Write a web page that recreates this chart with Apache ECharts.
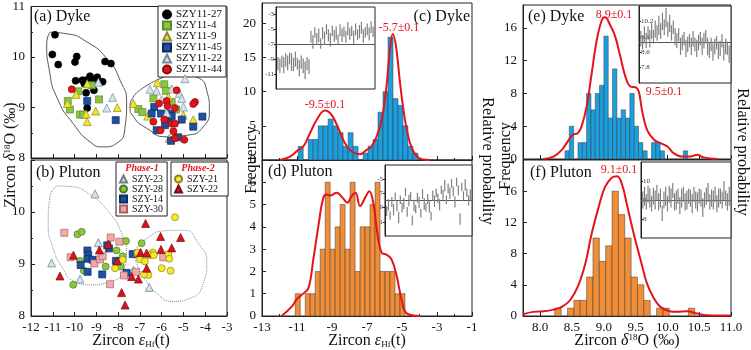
<!DOCTYPE html>
<html><head><meta charset="utf-8">
<script src="https://cdn.jsdelivr.net/npm/echarts/dist/echarts.min.js"></script>
<style>html,body{margin:0;padding:0;background:#fff}#c{width:751px;height:350px}</style>
</head><body><div id="c"></div>
<script>
// ---------------- DATA ----------------
// Panel (a) Dyke scatter  [eHf, d18O]
const a27 = [[-10.90,10.44],[-11.02,10.05],[-10.75,9.85],[-9.90,10.01],[-9.98,9.90],[-8.60,9.91],[-8.33,9.87],[-9.95,9.53],[-9.64,9.54],[-9.55,9.47],[-9.29,9.62],[-9.25,9.55],[-9.47,9.54],[-8.96,9.60],[-8.98,9.51],[-8.71,9.51],[-9.11,9.34],[-9.47,9.29],[-9.42,8.99]];
const a4  = [[-9.83,9.32],[-9.21,9.44],[-8.88,9.16],[-10.31,9.13],[-10.21,8.96],[-9.75,8.86],[-9.60,8.86],[-5.88,9.46],[-5.80,9.33],[-6.38,9.18],[-5.54,9.11],[-7.07,8.97],[-6.89,8.91],[-5.34,8.96]];
const a9  = [[-9.93,9.26],[-10.33,9.08],[-8.04,9.00],[-9.03,8.93],[-9.47,8.87],[-9.42,8.72],[-9.42,9.47],[-6.20,9.49],[-5.69,9.21],[-7.30,9.08],[-6.64,8.83],[-5.01,8.85],[-4.55,8.76],[-5.65,8.39]];
const a45 = [[-9.42,9.13],[-8.11,8.75],[-6.34,9.01],[-6.46,8.88],[-6.03,8.88],[-5.59,8.88],[-5.69,8.78],[-5.54,8.83],[-5.85,8.65],[-5.08,8.76],[-4.55,8.62],[-6.23,8.55],[-5.24,8.41],[-4.13,8.82],[-5.57,8.34]];
const a22 = [[-8.91,9.50],[-8.25,9.20],[-8.52,8.99],[-4.93,9.57],[-6.54,9.36],[-6.23,9.33],[-5.54,9.37],[-5.19,9.28],[-6.00,9.16],[-5.08,9.18],[-5.00,9.01],[-5.77,8.89]];
const a44 = [[-10.13,9.36],[-5.31,9.34],[-6.12,9.08],[-5.77,9.13],[-5.73,9.03],[-4.47,9.11],[-4.55,9.07],[-5.39,8.99],[-5.88,8.76],[-6.38,8.72],[-5.54,8.68],[-5.39,8.68],[-6.05,8.55],[-5.46,8.53],[-5.39,8.39],[-4.96,8.36]];
const aHullL = [[-11.13,10.49],[-10.36,10.46],[-9.44,10.30],[-8.52,9.97],[-7.91,9.54],[-7.61,9.08],[-7.68,8.62],[-8.07,8.29],[-8.68,8.22],[-9.29,8.32],[-10.06,8.68],[-10.75,9.14],[-11.16,9.74],[-11.28,10.26],[-11.13,10.49]];
const aHullR = [[-7.00,9.34],[-6.08,9.57],[-5.16,9.67],[-4.39,9.60],[-3.93,9.34],[-3.81,8.95],[-4.09,8.62],[-4.85,8.45],[-5.77,8.42],[-6.69,8.59],[-7.30,8.82],[-7.45,9.01],[-7.30,9.21],[-7.00,9.34]];

// Panel (b) Pluton scatter
const b23 = [[-9.06,10.35],[-11.05,9.02],[-9.75,8.71],[-8.91,9.41],[-6.57,8.55],[-7.30,8.88]];
const b28 = [[-9.87,9.57],[-9.67,9.62],[-9.75,9.06],[-9.57,8.87],[-10.06,8.60],[-8.57,8.95],[-8.07,9.26],[-7.79,9.15],[-7.88,8.95],[-7.64,9.44],[-6.92,9.40]];
const b14 = [[-9.41,9.26],[-9.37,9.17],[-9.41,9.10],[-9.17,9.08],[-8.42,9.30],[-8.50,9.36],[-9.72,8.98],[-9.40,8.85],[-8.73,8.80],[-8.10,9.06],[-7.33,9.19],[-7.61,8.83]];
const b30 = [[-10.47,9.60],[-10.18,9.13],[-9.09,9.01],[-8.83,9.09],[-8.71,9.15],[-8.34,9.51],[-7.94,9.43],[-8.37,8.61],[-7.73,8.78],[-7.18,8.85],[-5.93,9.13],[-7.10,9.21]];
const b21 = [[-5.39,9.90],[-6.41,9.22],[-6.54,9.17],[-6.99,9.09],[-6.77,9.05],[-5.69,9.19],[-5.65,9.10],[-6.00,8.92],[-5.59,8.87],[-6.61,8.79],[-6.81,8.80],[-7.79,9.08],[-8.14,8.92],[-7.10,9.22],[-6.36,9.17]];
const b22 = [[-6.74,9.78],[-6.05,9.53],[-5.13,9.51],[-5.54,9.31],[-6.03,9.28],[-6.97,9.22],[-6.69,9.21],[-6.69,8.92],[-7.38,8.76],[-7.07,8.71],[-7.84,8.45],[-7.68,8.21],[-10.05,9.17],[-10.67,8.77],[-8.86,9.27],[-8.45,9.38],[-8.04,9.06]];
const bHullL = [[-10.82,10.50],[-10.21,10.49],[-9.29,10.33],[-8.37,9.97],[-7.84,9.59],[-7.61,9.24],[-7.76,8.88],[-8.37,8.66],[-9.29,8.60],[-9.98,8.66],[-10.59,8.95],[-10.98,9.30],[-11.21,9.78],[-11.13,10.29],[-10.82,10.50]];
const bHullR = [[-7.30,9.21],[-6.69,9.49],[-5.77,9.64],[-5.00,9.65],[-4.32,9.40],[-3.93,9.01],[-4.09,8.63],[-4.70,8.34],[-5.47,8.28],[-6.23,8.44],[-6.84,8.76],[-7.22,9.08],[-7.30,9.21]];

// Panel (c) Dyke eHf histogram: bin left edges, counts
const cBinW = 0.285;
const cEdges = [-10.93,-10.645,-10.36,-10.075,-9.79,-9.505,-9.22,-8.935,-8.65,-8.365,-8.08,-7.795,-7.51,-7.225,-6.94,-6.655,-6.37,-6.085,-5.80,-5.515,-5.23,-4.945,-4.66,-4.375,-4.09];
const cCounts= [2,0,3,3,5,5,6,5,4,2,4,2,0,1,2,3,7,10,18,9,8,5,2,1,0];
const cCurve = [[-11.97,0],[-11.40,0.5],[-10.92,1.48],[-10.64,1.97],[-10.26,3.92],[-9.88,5.87],[-9.40,7.24],[-9.02,6.6],[-8.64,4.65],[-8.26,2.45],[-7.88,1.24],[-7.40,0.84],[-7.02,1.48],[-6.73,2.06],[-6.45,3.43],[-6.16,5.87],[-5.91,10.26],[-5.69,16.12],[-5.53,18.45],[-5.34,16.6],[-5.11,11.23],[-4.83,5.87],[-4.54,2.45],[-4.26,0.89],[-3.88,0.11],[-3.4,0]];

// Panel (d) Pluton eHf histogram
const dBinW = 0.285;
const dEdges = [-11.1,-10.815,-10.53,-10.245,-9.96,-9.675,-9.39,-9.105,-8.82,-8.535,-8.25,-7.965,-7.68,-7.395,-7.11,-6.825,-6.54,-6.255,-5.97,-5.685,-5.40,-5.115];
const dCounts= [1,0,1,1,2,3,6,3,4,5,3,6,2,4,4,5,6,2,2,2,1,1];
const dCurve = [[-11.88,0],[-11.30,0.42],[-11.02,0.75],[-10.73,0.95],[-10.35,1.25],[-10.07,2.53],[-9.78,4.03],[-9.50,5.30],[-9.30,5.45],[-9.11,5.41],[-8.73,5.53],[-8.39,5.30],[-8.12,5.08],[-7.88,5.38],[-7.65,5.53],[-7.40,4.93],[-7.06,5.38],[-6.87,5.60],[-6.64,5.08],[-6.41,3.73],[-6.16,2.83],[-5.88,2.75],[-5.59,2.53],[-5.30,1.78],[-5.02,0.72],[-4.73,0.12],[-3.97,0]];

// Panel (e) Dyke d18O histogram
const eBinW = 0.068;
const eEdges = [8.39,8.458,8.526,8.594,8.662,8.73,8.798,8.866,8.934,9.002,9.07,9.138,9.206,9.274,9.342,9.41,9.478,9.546,9.614,9.682,9.75,9.818,9.886,9.954,10.25];
const eCounts= [1,4,0,2,2,8,6,8,9,15,5,11,5,6,5,8,4,2,1,0,2,2,1,0,1];
const eCurve = [[8.05,0],[8.21,0.30],[8.34,1.12],[8.45,2.34],[8.51,2.95],[8.59,3.15],[8.65,3.96],[8.73,6.40],[8.81,10.47],[8.89,14.53],[8.97,16.97],[9.02,17.30],[9.10,16.36],[9.18,14.94],[9.26,12.5],[9.34,10.06],[9.42,8.84],[9.50,8.76],[9.55,8.23],[9.60,5.99],[9.68,3.56],[9.79,2.34],[9.89,1.93],[10.0,1.52],[10.10,0.71],[10.23,0.30],[10.36,0.30],[10.47,0.51],[10.57,0.2],[10.78,0]];

// Panel (f) Pluton d18O histogram
const fBinW = 0.1;
const fEdges = [8.23,8.33,8.43,8.53,8.63,8.73,8.83,8.93,9.03,9.13,9.23,9.33,9.43,9.53,9.63,9.73,9.83,9.93,10.33];
const fCounts= [1,0,1,2,2,5,10,7,9,16,13,10,5,4,2,0,1,1,1];
const fCurve = [[7.73,0.23],[7.89,0.53],[8.05,0.61],[8.21,0.82],[8.34,1.17],[8.47,2.02],[8.60,3.94],[8.71,6.72],[8.81,10.57],[8.92,13.99],[9.02,16.55],[9.13,17.75],[9.21,17.92],[9.29,16.77],[9.36,14.41],[9.47,10.57],[9.58,7.15],[9.68,4.16],[9.79,2.24],[9.89,1.17],[10.02,0.65],[10.15,0.53],[10.31,0.61],[10.47,0.31],[10.63,0.10],[10.99,0.06]];

// Insets: analysis order -> value and half error
const icVal = [-9.6,-9.9,-9.3,-9.8,-9.1,-9.5,-8.9,-9.4,-9.7,-9.0,-9.6,-10.2,-9.4,-9.9,-10.5,-9.6,-10.0,-6.0,-6.7,-5.4,-6.3,-5.8,-6.9,-5.5,-6.2,-5.0,-5.8,-6.4,-5.2,-5.9,-5.5,-6.4,-5.1,-5.8,-5.3,-6.0,-4.9,-5.6,-5.2,-6.1,-5.0,-5.7,-5.3,-4.8,-5.9,-5.4,-5.0,-5.6,-4.7,-5.3];
const icErr = [0.9,1.0,0.8,1.1,0.9,1.0,0.8,1.2,0.9,1.0,0.8,1.1,0.9,1.0,1.2,0.9,1.0,0.8,0.9,0.7,0.8,0.9,0.7,0.8,0.9,0.7,0.8,0.9,0.7,0.8,0.9,0.7,0.8,0.9,0.7,0.8,0.9,0.8,0.7,0.9,0.8,0.7,0.9,0.8,0.9,0.7,0.8,0.9,0.8,0.7];
const idVal = [-9.5,-8.6,-10.1,-8.2,-9.3,-7.5,-8.8,-10.4,-7.9,-9.0,-8.4,-6.8,-9.6,-8.0,-7.4,-10.8,-8.7,-9.2,-7.6,-8.3,-9.8,-7.1,-8.5,-9.0,-7.8,-8.9,-10.2,-7.3,-8.1,-6.9,-7.7,-8.6,-6.5,-7.2,-5.9,-7.9,-6.3,-7.0,-5.6,-6.7,-8.2,-5.4,-6.6,-10.6,-6.1,-7.4,-5.8,-6.9,-8.0,-7.2];
const idErr = [0.7,0.8,0.6,0.7,0.8,0.6,0.7,0.8,0.6,0.7,0.8,0.6,0.7,0.8,0.6,0.7,0.8,0.6,0.7,0.8,0.6,0.7,0.8,0.6,0.7,0.8,0.6,0.7,0.8,0.6,0.7,0.8,0.6,0.7,0.8,0.6,0.7,0.8,0.6,0.7,0.8,0.6,0.7,0.8,0.6,0.7,0.8,0.6,0.7,0.8];
const ieVal = [9.3,9.1,9.5,9.2,9.6,9.3,9.7,9.4,9.8,9.6,10.0,9.7,10.2,9.9,10.4,9.8,10.1,9.6,9.9,9.4,9.2,9.5,8.9,9.1,9.3,8.8,9.0,9.2,8.9,9.3,9.0,8.8,9.1,9.3,8.9,9.2,9.4,8.9,8.7,9.0,8.6,8.9,9.1,8.7,8.8,9.2,8.6,8.9,8.8,8.5];
const ieErr = [0.4,0.35,0.45,0.4,0.35,0.45,0.4,0.35,0.45,0.4,0.5,0.4,0.45,0.4,0.5,0.4,0.45,0.4,0.35,0.45,0.4,0.35,0.45,0.4,0.35,0.45,0.4,0.35,0.45,0.4,0.35,0.45,0.4,0.35,0.45,0.4,0.35,0.45,0.4,0.35,0.45,0.4,0.35,0.45,0.4,0.35,0.45,0.4,0.35,0.45];
const ifVal = [9.0,9.2,8.9,9.3,9.1,8.8,9.2,9.0,9.4,8.9,9.1,8.3,9.0,9.2,8.8,9.3,9.1,9.5,8.9,9.0,9.2,8.7,9.1,9.3,8.9,9.0,9.2,9.1,8.8,9.3,9.0,8.9,9.2,9.1,8.6,9.0,9.2,9.4,8.9,9.1,9.0,9.3,8.8,9.1,9.2,9.0,9.5,9.1,8.9,9.2];
const ifErr = [0.45,0.5,0.4,0.45,0.5,0.4,0.45,0.5,0.4,0.45,0.5,0.4,0.45,0.5,0.4,0.45,0.5,0.4,0.45,0.5,0.4,0.45,0.5,0.4,0.45,0.5,0.4,0.45,0.5,0.4,0.45,0.5,0.4,0.45,0.5,0.4,0.45,0.5,0.4,0.45,0.5,0.4,0.45,0.5,0.4,0.45,0.5,0.4,0.45,0.5];
const insetLines = [-7, -8, 9.1, 9.0];

// ---------------- CHART ----------------
const SERIF = '"Liberation Serif","DejaVu Serif",serif';
const chart = echarts.init(document.getElementById('c'), null, {renderer:'canvas'});
const grids = [
  {left:31, top:6, width:196, height:152},
  {left:31, top:160, width:196, height:156},
  {left:262, top:3, width:210, height:157},
  {left:262, top:160, width:210, height:156},
  {left:523, top:5, width:208, height:154},
  {left:523, top:160, width:208, height:156},
  {left:276, top:7, width:99, height:82},
  {left:385, top:165, width:87, height:71},
  {left:639, top:6, width:92, height:77},
  {left:641, top:162, width:90, height:76}
].map((g,i)=>Object.assign({show:true, borderColor:'#222', borderWidth:1, backgroundColor:i>5?'#fff':'transparent'}, g));

const lab = {fontFamily:SERIF, fontSize:13, color:'#111'};
function ax(o){
  return Object.assign({
    type:'value', scale:false,
    axisLine:{show:true, onZero:false, lineStyle:{color:'#222', width:1}},
    axisTick:{show:true, inside:true, length:4, lineStyle:{color:'#222'}},
    axisLabel:Object.assign({show:false, margin:5}, lab),
    splitLine:{show:false}
  }, o);
}
const xAxis = [
  ax({gridIndex:0, min:-12, max:-3, interval:1}),
  ax({gridIndex:1, min:-12, max:-3, interval:1, axisLabel:Object.assign({show:true, margin:5}, lab)}),
  ax({gridIndex:2, min:-13, max:-1, interval:2, minorTick:{show:true, splitNumber:2, length:2}}),
  ax({gridIndex:3, min:-13, max:-1, interval:2, minorTick:{show:true, splitNumber:2, length:2}, axisLabel:Object.assign({show:true, margin:5}, lab)}),
  ax({gridIndex:4, min:7.73, max:11.0, axisTick:{show:true, inside:true, length:4, customValues:[8,8.5,9,9.5,10,10.5,11]}}),
  ax({gridIndex:5, min:7.73, max:11.0, axisTick:{show:true, inside:true, length:4, customValues:[8,8.5,9,9.5,10,10.5,11]},
      axisLabel:Object.assign({show:true, margin:5, customValues:[8,8.5,9,9.5,10,10.5,11], formatter:v=>v.toFixed(1)}, lab)}),
  ax({gridIndex:6, min:0, max:51, show:false}),
  ax({gridIndex:7, min:0, max:51, show:false}),
  ax({gridIndex:8, min:0, max:51, show:false}),
  ax({gridIndex:9, min:0, max:51, show:false})
];
const smallLab = {show:true, fontFamily:SERIF, fontSize:7, color:'#333', margin:2};
const yAxis = [
  ax({gridIndex:0, min:8, max:11, interval:1, minorTick:{show:true, splitNumber:2, length:2}, axisLabel:Object.assign({show:true, margin:6}, lab)}),
  ax({gridIndex:1, min:8, max:11, interval:1, minorTick:{show:true, splitNumber:2, length:2}, axisLabel:Object.assign({show:true, margin:6, showMaxLabel:false}, lab)}),
  ax({gridIndex:2, min:0, max:23, interval:5, axisLabel:Object.assign({show:true, margin:6, showMaxLabel:false}, lab)}),
  ax({gridIndex:3, min:0, max:7, interval:1, axisLabel:Object.assign({show:true, margin:6, showMaxLabel:false}, lab)}),
  ax({gridIndex:4, min:0, max:18.8, interval:4, axisLabel:Object.assign({show:true, margin:6, showMaxLabel:false}, lab)}),
  ax({gridIndex:5, min:0, max:20, interval:4, axisLabel:Object.assign({show:true, margin:6, showMaxLabel:false}, lab)}),
  ax({gridIndex:6, min:-13, max:-2, interval:2, axisTick:{show:true, inside:false, length:2}, axisLabel:Object.assign({}, smallLab, {showMinLabel:false, showMaxLabel:false})}),
  ax({gridIndex:7, min:-13, max:-3, interval:2, axisTick:{show:true, inside:false, length:2}, axisLabel:Object.assign({}, smallLab, {showMinLabel:false, showMaxLabel:false})}),
  ax({gridIndex:8, min:7, max:11, interval:0.8, axisTick:{show:true, inside:true, length:2}, axisLabel:Object.assign({}, smallLab, {inside:true, showMinLabel:false, showMaxLabel:false, formatter:v=>v.toFixed(1)})}),
  ax({gridIndex:9, min:7, max:11, interval:1, axisTick:{show:true, inside:true, length:2}, axisLabel:Object.assign({}, smallLab, {inside:true, showMinLabel:false, showMaxLabel:false})})
];

const series = [];
function scat(name, data, idx, symbol, color, border){
  series.push({name, type:'scatter', xAxisIndex:idx, yAxisIndex:idx, data, symbol, symbolSize: symbol==='triangle'?8:7,
    itemStyle:{color, borderColor:border, borderWidth:0.7, opacity:1}, z:5, silent:true});
}
function hull(data, idx, dotted){
  series.push({type:'line', xAxisIndex:idx, yAxisIndex:idx, data, smooth:0.6, symbol:'none', silent:true, z:3,
    lineStyle:{color: dotted?'#888':'#444', width: dotted?1:0.9, type: dotted?'dotted':'solid'}});
}
hull(aHullL,0,false); hull(aHullR,0,false);
hull(bHullL,1,true); hull(bHullR,1,true);
scat('SZY11-27', a27, 0, 'circle', '#000', '#000');
scat('SZY11-4', a4, 0, 'rect', '#8cc63e', '#5a8a2a');
scat('SZY11-9', a9, 0, 'triangle', '#f4e41c', '#8a8a40');
scat('SZY11-45', a45, 0, 'rect', '#1e4fa0', '#0d2d60');
scat('SZY11-22', a22, 0, 'triangle', '#d2e4ec', '#7a8d96');
scat('SZY11-44', a44, 0, 'circle', '#e3141b', '#8a0a0e');
scat('SZY-23', b23, 1, 'triangle', '#d2e4ec', '#6a7d86');
scat('SZY-28', b28, 1, 'circle', '#8cc63e', '#4a7a22');
scat('SZY-14', b14, 1, 'rect', '#1e4fa0', '#0d2d60');
scat('SZY-30', b30, 1, 'rect', '#f3a8aa', '#a06466');
scat('SZY-21', b21, 1, 'circle', '#f6ea22', '#8a8030');
scat('SZY-22', b22, 1, 'triangle', '#d7141b', '#7a0a0e');

function hist(edges, counts, w, idx, color){
  series.push({type:'custom', xAxisIndex:idx, yAxisIndex:idx, silent:true, z:2,
    data: edges.map((e,i)=>[e, e+w, counts[i]]),
    encode:{x:[0,1], y:2},
    renderItem:(params, api)=>{
      const h = api.value(2); if(!h) return null;
      const p0 = api.coord([api.value(0), 0]), p1 = api.coord([api.value(1), h]);
      return {type:'rect', shape:{x:p0[0], y:p1[1], width:p1[0]-p0[0], height:p0[1]-p1[1]},
        style:{fill:color, stroke:'#3a3a3a', lineWidth:0.5}};
    }});
}
function curve(data, idx){
  series.push({type:'line', xAxisIndex:idx, yAxisIndex:idx, data, smooth:0.4, symbol:'none', silent:true, z:4,
    lineStyle:{color:'#e3141b', width:2}});
}
hist(cEdges, cCounts, cBinW, 2, '#1a9fe0'); curve(cCurve, 2);
hist(dEdges, dCounts, dBinW, 3, '#f08d36'); curve(dCurve, 3);
hist(eEdges, eCounts, eBinW, 4, '#1a9fe0'); curve(eCurve, 4);
hist(fEdges, fCounts, fBinW, 5, '#f08d36'); curve(fCurve, 5);

function inset(vals, errs, idx, lineY){
  series.push({type:'custom', xAxisIndex:idx, yAxisIndex:idx, silent:true, z:6,
    data: vals.map((v,i)=>[i+1, v-errs[i], v+errs[i]]),
    encode:{x:0, y:[1,2]},
    renderItem:(params, api)=>{
      const a = api.coord([api.value(0), api.value(1)]), b = api.coord([api.value(0), api.value(2)]);
      return {type:'line', shape:{x1:a[0], y1:a[1], x2:b[0], y2:b[1]}, style:{stroke:'#808080', lineWidth:1.2}};
    },
    markLine:{silent:true, symbol:'none', label:{show:false}, lineStyle:{color:'#555', width:1, type:'solid'}, data:[{yAxis:lineY}]}
  });
}
inset(icVal, icErr, 6, insetLines[0]);
inset(idVal, idErr, 7, insetLines[1]);
inset(ieVal, ieErr, 8, insetLines[2]);
inset(ifVal, ifErr, 9, insetLines[3]);

const legTxt = {fontFamily:SERIF, fontSize:11, color:'#111', lineHeight:9.5};
const legend = [
  {show:true, orient:'vertical', left:158, top:6, padding:[3,4,2,4], itemGap:0, itemWidth:8, itemHeight:8,
   borderColor:'#222', borderWidth:1, backgroundColor:'#fff', selectedMode:false, textStyle:legTxt,
   data:['SZY11-27','SZY11-4','SZY11-9','SZY11-45','SZY11-22','SZY11-44']},
  {show:true, orient:'vertical', left:116, top:162, padding:[12,4,2,3], itemGap:0, itemWidth:7, itemHeight:7,
   borderColor:'#222', borderWidth:1, backgroundColor:'#fff', selectedMode:false, textStyle:Object.assign({}, legTxt, {fontSize:10, lineHeight:8.3}),
   data:['SZY-23','SZY-28','SZY-14','SZY-30']},
  {show:true, orient:'vertical', left:171, top:162, padding:[12,10,2,3], itemGap:0, itemWidth:7, itemHeight:7,
   borderColor:'#222', borderWidth:1, backgroundColor:'#fff', selectedMode:false, textStyle:Object.assign({}, legTxt, {fontSize:10, lineHeight:8.3}),
   data:['SZY-21','SZY-22']}
];

const T = (text, x, y, size, extra)=>({type:'text', x, y, z:100, silent:true, ...(extra&&extra.el||{}),
  style:Object.assign({text, fill:'#111', font:`${size}px ${SERIF}`, align:'left', verticalAlign:'middle'}, extra&&extra.style||{})});
const rich = {
  it:{fontFamily:SERIF, fontSize:16, fontStyle:'italic', fill:'#111'},
  sup:{fontFamily:SERIF, fontSize:9, fill:'#111', verticalAlign:'top', padding:[0,0,7,0]},
  sub:{fontFamily:SERIF, fontSize:9, fill:'#111', verticalAlign:'bottom', padding:[6,0,0,0]}
};
const graphic = [
  T('(a) Dyke', 34, 17, 16), T('(b) Pluton', 36, 173, 16),
  T('(c) Dyke', 470, 17, 16, {style:{align:'right'}}), T('(d) Pluton', 268, 172, 16),
  T('(e) Dyke', 528, 17, 16), T('(f) Pluton', 530, 173, 16),
  T('Phase-1', 142, 168, 10, {style:{align:'center', fill:'#e3141b', font:`italic bold 10px ${SERIF}`}}),
  T('Phase-2', 198, 168, 10, {style:{align:'center', fill:'#e3141b', font:`italic bold 10px ${SERIF}`}}),
  T('-9.5±0.1', 325, 105, 12, {style:{align:'center', fill:'#e3141b'}}),
  T('-5.7±0.1', 399, 28, 12, {style:{align:'center', fill:'#e3141b'}}),
  T('8.9±0.1', 614, 15, 12, {style:{align:'center', fill:'#e3141b'}}),
  T('9.5±0.1', 664, 92, 12, {style:{align:'center', fill:'#e3141b'}}),
  T('9.1±0.1', 619, 170, 12, {style:{align:'center', fill:'#e3141b'}}),
  T('Zircon {it|δ}{sup|18}O (‰)', 11, 155, 16, {el:{rotation:Math.PI/2}, style:{align:'center', rich}}),
  T('Zircon {it|ε}{sub|Hf}(t)', 131, 341, 16, {style:{align:'center', rich}}),
  T('Zircon {it|ε}{sub|Hf}(t)', 367, 341, 16, {style:{align:'center', rich}}),
  T('Zircon {it|δ}{sup|18}O (‰)', 627, 341, 16, {style:{align:'center', rich}}),
  T('Frequency', 252, 160, 16, {el:{rotation:Math.PI/2}, style:{align:'center'}}),
  T('Frequency', 506, 156, 16, {el:{rotation:Math.PI/2}, style:{align:'center'}}),
  T('Relative probability', 487, 161, 16, {el:{rotation:-Math.PI/2}, style:{align:'center'}}),
  T('Relative probability', 742, 152, 16, {el:{rotation:-Math.PI/2}, style:{align:'center'}})
];

chart.setOption({animation:false, backgroundColor:'#fff', grid:grids, xAxis, yAxis, series, legend, graphic});
</script></body></html>
